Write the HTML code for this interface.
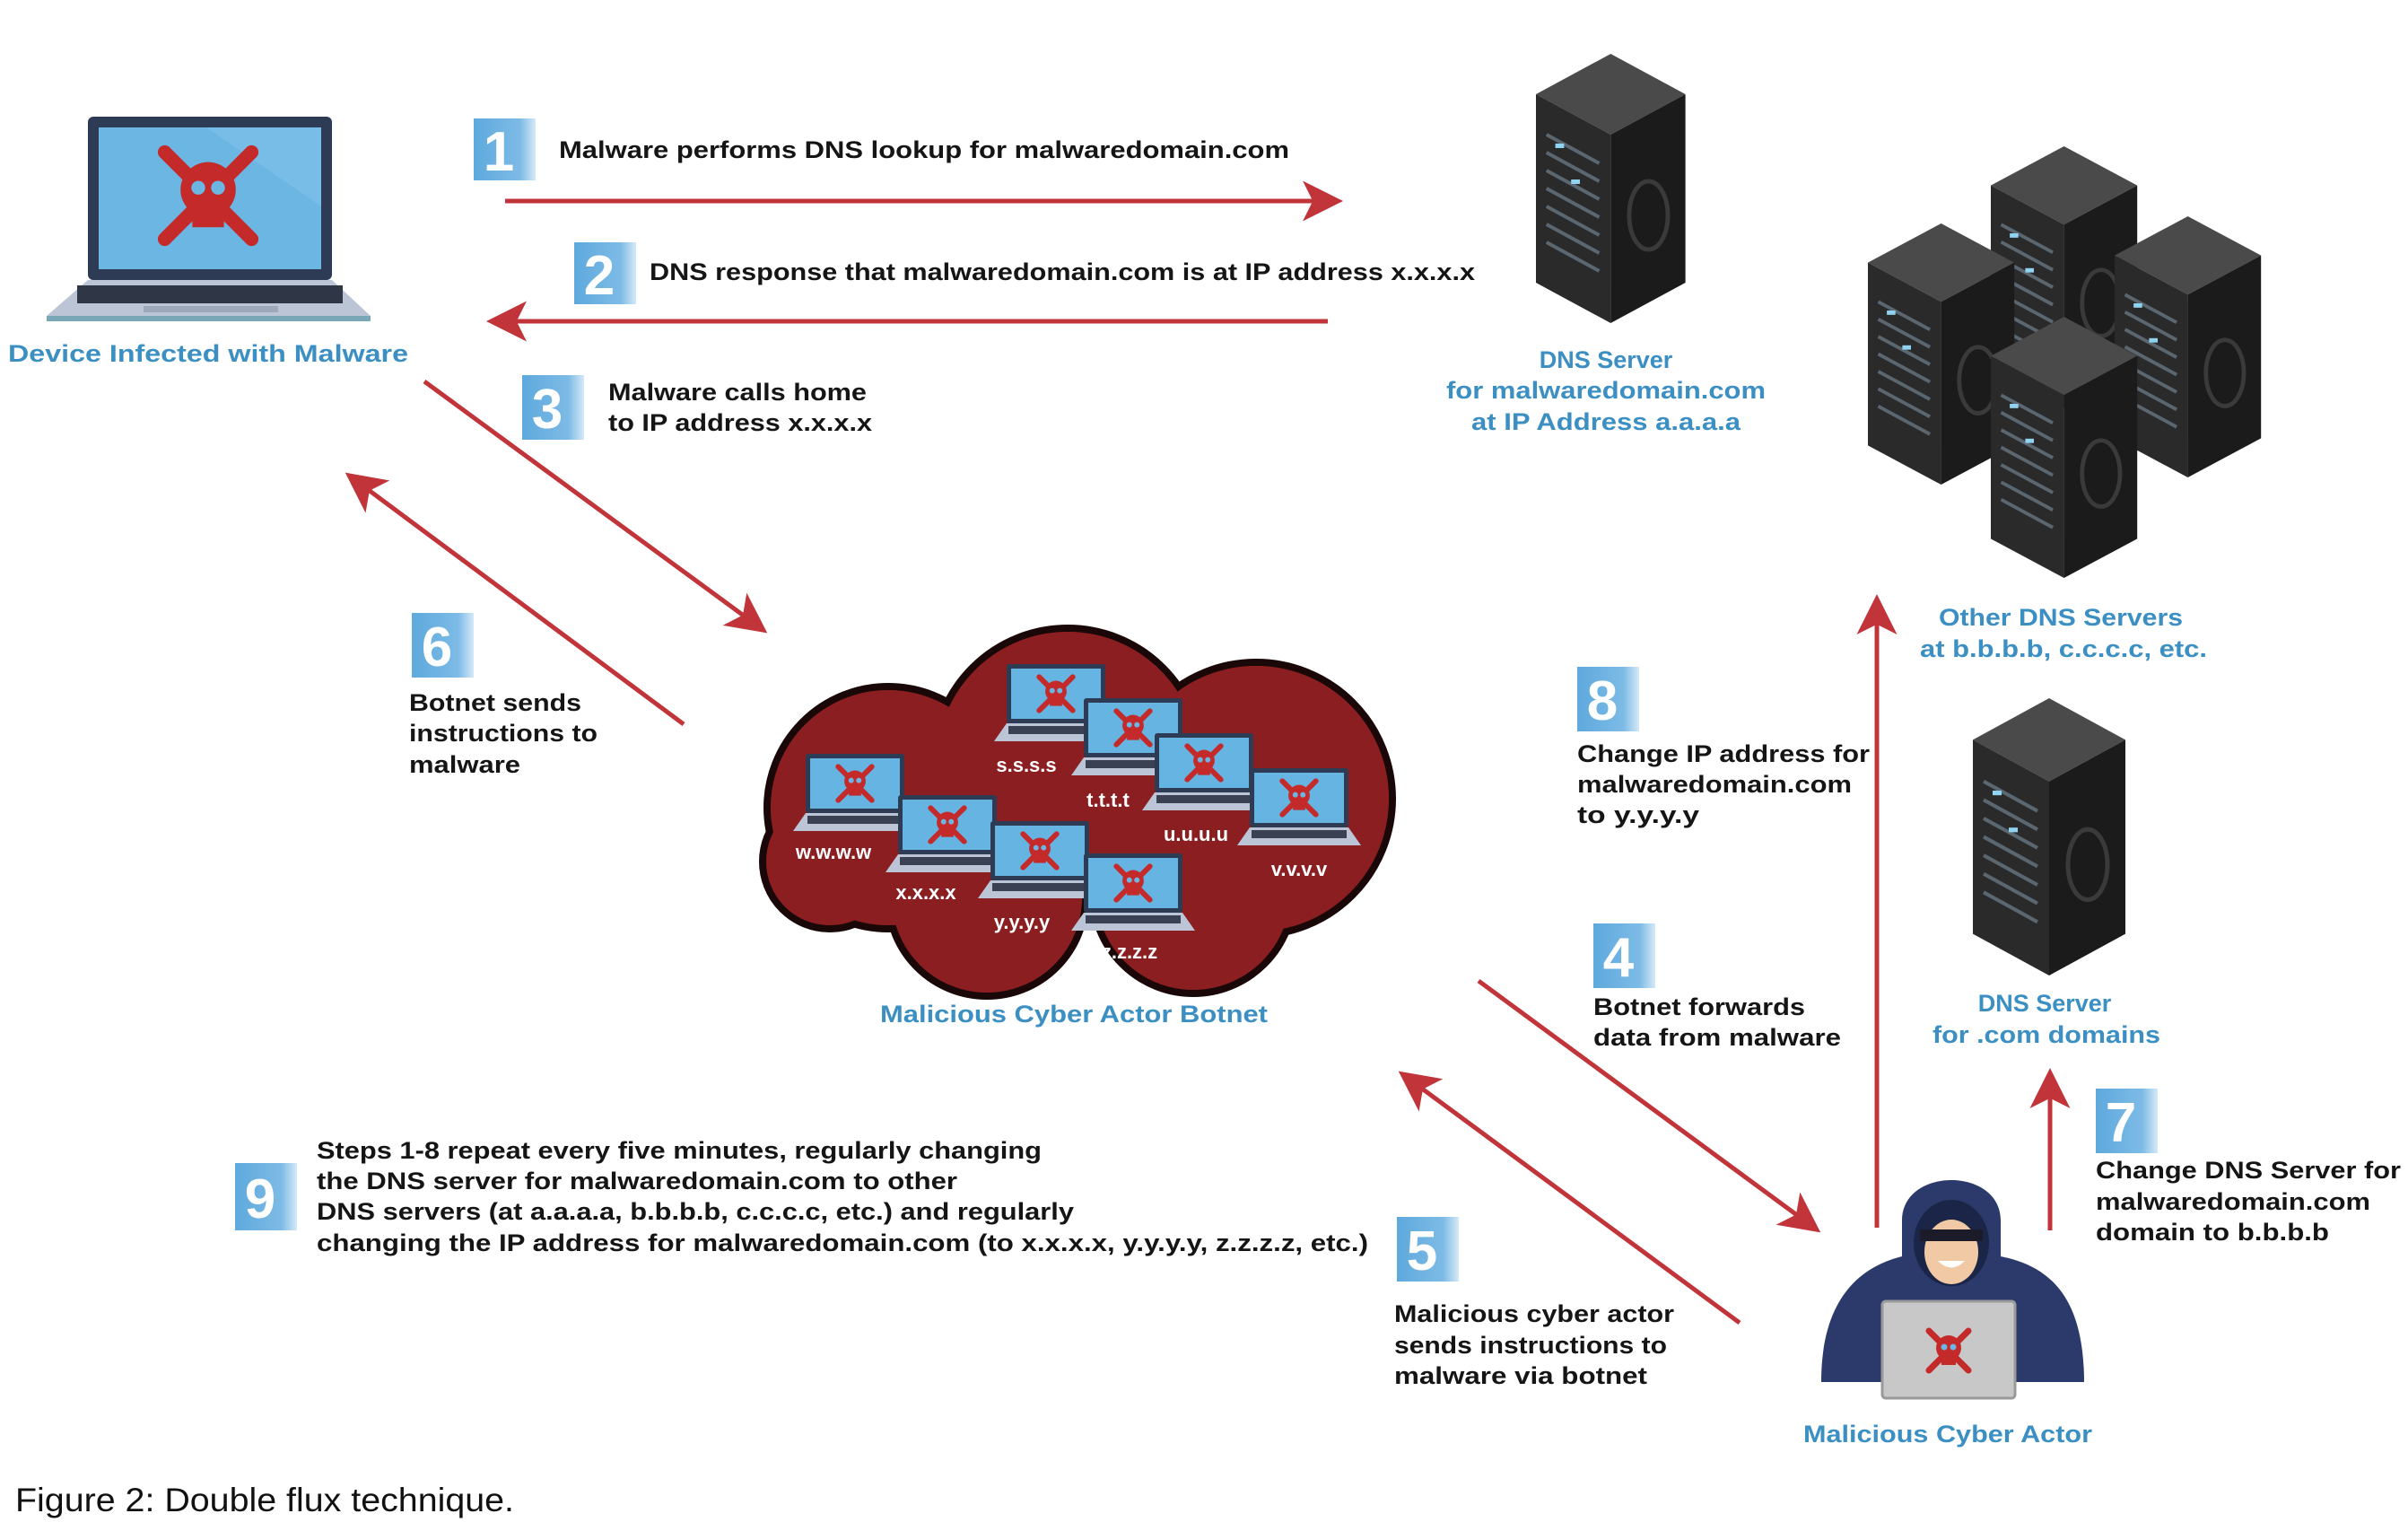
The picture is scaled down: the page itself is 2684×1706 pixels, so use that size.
<!DOCTYPE html>
<html><head><meta charset="utf-8"><style>
html,body{margin:0;padding:0;background:#fff;}
svg{display:block;}
.t{font-family:"Liberation Sans",sans-serif;font-weight:bold;font-size:27px;fill:#151515;}
.b{font-family:"Liberation Sans",sans-serif;font-weight:bold;font-size:27px;fill:#3b8fc2;}
.n{font-family:"Liberation Sans",sans-serif;font-weight:bold;font-size:62px;fill:#fff;}
.l{font-family:"Liberation Sans",sans-serif;font-weight:bold;font-size:22px;fill:#fff;}
</style></head><body>
<svg width="2684" height="1706" viewBox="0 0 2684 1706" xmlns="http://www.w3.org/2000/svg">
<defs>
<marker id="ah" viewBox="0 0 20 20" refX="16" refY="10" markerWidth="9" markerHeight="9" orient="auto" markerUnits="strokeWidth">
<path d="M0,0 L20,10 L0,20 L5,10 Z" fill="#c0343a"/>
</marker>
<linearGradient id="bg" x1="0" x2="1"><stop offset="0" stop-color="#5ea9dd"/><stop offset="0.75" stop-color="#7dbbe6"/><stop offset="1" stop-color="#d5e9f7"/></linearGradient>
<g id="skull">
<line x1="-22" y1="-22" x2="22" y2="22" stroke="#c42a2a" stroke-width="7" stroke-linecap="round"/>
<line x1="22" y1="-22" x2="-22" y2="22" stroke="#c42a2a" stroke-width="7" stroke-linecap="round"/>
<circle cx="0" cy="-3" r="14" fill="#c42a2a"/>
<rect x="-8" y="6" width="16" height="10" fill="#c42a2a"/>
<circle cx="-5" cy="-4" r="3.5" fill="#6cb6e4"/><circle cx="5" cy="-4" r="3.5" fill="#6cb6e4"/>
</g>
<g id="ml">
<rect x="0" y="0" width="110" height="66" rx="3" fill="#2d3b55"/>
<rect x="5" y="5" width="100" height="56" fill="#66b4e2"/>
<use href="#skull" transform="translate(55,33) scale(0.85)"/>
<polygon points="0,66 110,66 124,86 -14,86" fill="#bcc5d6"/>
<rect x="2" y="69" width="106" height="9" fill="#3a4152"/>
</g>
<g id="srv">
<polygon points="0,45 85,0 170,45 85,90" fill="#4a4a4a"/>
<polygon points="0,45 85,90 85,300 0,255" fill="#2a2a2a"/>
<polygon points="85,90 170,45 170,255 85,300" fill="#1b1b1b"/>
<g stroke="#5a6670" stroke-width="4">
<line x1="12" y1="90" x2="72" y2="122"/><line x1="12" y1="110" x2="72" y2="142"/>
<line x1="12" y1="130" x2="72" y2="162"/><line x1="12" y1="150" x2="72" y2="182"/>
<line x1="12" y1="170" x2="72" y2="202"/><line x1="12" y1="190" x2="72" y2="222"/>
<line x1="12" y1="210" x2="72" y2="242"/>
</g>
<rect x="22" y="100" width="10" height="5" fill="#8fd3f0"/><rect x="40" y="140" width="10" height="5" fill="#8fd3f0"/>
<ellipse cx="128" cy="180" rx="22" ry="38" fill="none" stroke="#3a3a3a" stroke-width="5"/>
</g>
</defs>

<!-- Main laptop -->
<rect x="98" y="130" width="272" height="182" rx="6" fill="#2d3b55"/>
<rect x="110" y="142" width="248" height="158" fill="#6cb6e4"/>
<polygon points="230,142 358,142 358,230" fill="#7fc2ea" opacity="0.6"/>
<use href="#skull" transform="translate(232,218) scale(2.2)"/>
<polygon points="98,312 370,312 413,352 52,352" fill="#bcc5d6"/>
<rect x="86" y="318" width="296" height="20" fill="#2f3646"/>
<rect x="160" y="341" width="150" height="7" fill="#9ea8bb"/>
<rect x="52" y="352" width="361" height="6" fill="#7aa7b6"/>
<text class="b" x="232" y="403" text-anchor="middle" textLength="446" lengthAdjust="spacingAndGlyphs">Device Infected with Malware</text>

<!-- Badges -->
<g>
<rect x="528" y="132" width="69" height="69" fill="url(#bg)"/><text class="n" x="556" y="190" text-anchor="middle">1</text>
<rect x="640" y="270" width="69" height="69" fill="url(#bg)"/><text class="n" x="668" y="328" text-anchor="middle">2</text>
<rect x="582" y="418" width="69" height="72" fill="url(#bg)"/><text class="n" x="610" y="477" text-anchor="middle">3</text>
<rect x="459" y="683" width="69" height="72" fill="url(#bg)"/><text class="n" x="487" y="742" text-anchor="middle">6</text>
<rect x="1758" y="743" width="69" height="72" fill="url(#bg)"/><text class="n" x="1786" y="802" text-anchor="middle">8</text>
<rect x="1776" y="1029" width="69" height="72" fill="url(#bg)"/><text class="n" x="1804" y="1088" text-anchor="middle">4</text>
<rect x="1557" y="1356" width="69" height="72" fill="url(#bg)"/><text class="n" x="1585" y="1415" text-anchor="middle">5</text>
<rect x="2336" y="1213" width="69" height="72" fill="url(#bg)"/><text class="n" x="2364" y="1272" text-anchor="middle">7</text>
<rect x="262" y="1296" width="69" height="75" fill="url(#bg)"/><text class="n" x="290" y="1357" text-anchor="middle">9</text>
</g>

<!-- Step texts -->
<text class="t" x="623" y="176" textLength="814" lengthAdjust="spacingAndGlyphs">Malware performs DNS lookup for malwaredomain.com</text>
<text class="t" x="724" y="312" textLength="920" lengthAdjust="spacingAndGlyphs">DNS response that malwaredomain.com is at IP address x.x.x.x</text>
<text class="t" x="678" y="446" textLength="288" lengthAdjust="spacingAndGlyphs">Malware calls home</text>
<text class="t" x="678" y="480" textLength="294" lengthAdjust="spacingAndGlyphs">to IP address x.x.x.x</text>
<text class="t" x="456" y="792" textLength="192" lengthAdjust="spacingAndGlyphs">Botnet sends</text>
<text class="t" x="456" y="826" textLength="210" lengthAdjust="spacingAndGlyphs">instructions to</text>
<text class="t" x="456" y="861" textLength="124" lengthAdjust="spacingAndGlyphs">malware</text>
<text class="t" x="1758" y="849" textLength="326" lengthAdjust="spacingAndGlyphs">Change IP address for</text>
<text class="t" x="1758" y="883" textLength="306" lengthAdjust="spacingAndGlyphs">malwaredomain.com</text>
<text class="t" x="1758" y="917" textLength="136" lengthAdjust="spacingAndGlyphs">to y.y.y.y</text>
<text class="t" x="1776" y="1131" textLength="236" lengthAdjust="spacingAndGlyphs">Botnet forwards</text>
<text class="t" x="1776" y="1165" textLength="276" lengthAdjust="spacingAndGlyphs">data from malware</text>
<text class="t" x="1554" y="1473" textLength="312" lengthAdjust="spacingAndGlyphs">Malicious cyber actor</text>
<text class="t" x="1554" y="1508" textLength="304" lengthAdjust="spacingAndGlyphs">sends instructions to</text>
<text class="t" x="1554" y="1542" textLength="282" lengthAdjust="spacingAndGlyphs">malware via botnet</text>
<text class="t" x="2336" y="1313" textLength="340" lengthAdjust="spacingAndGlyphs">Change DNS Server for</text>
<text class="t" x="2336" y="1348" textLength="306" lengthAdjust="spacingAndGlyphs">malwaredomain.com</text>
<text class="t" x="2336" y="1382" textLength="260" lengthAdjust="spacingAndGlyphs">domain to b.b.b.b</text>
<text class="t" x="353" y="1291" textLength="808" lengthAdjust="spacingAndGlyphs">Steps 1-8 repeat every five minutes, regularly changing</text>
<text class="t" x="353" y="1325" textLength="714" lengthAdjust="spacingAndGlyphs">the DNS server for malwaredomain.com to other</text>
<text class="t" x="353" y="1359" textLength="844" lengthAdjust="spacingAndGlyphs">DNS servers (at a.a.a.a, b.b.b.b, c.c.c.c, etc.) and regularly</text>
<text class="t" x="353" y="1394" textLength="1172" lengthAdjust="spacingAndGlyphs">changing the IP address for malwaredomain.com (to x.x.x.x, y.y.y.y, z.z.z.z, etc.)</text>

<!-- Arrows -->
<g stroke="#c0343a" stroke-width="5" fill="none">
<line x1="563" y1="224" x2="1488" y2="224" marker-end="url(#ah)"/>
<line x1="1480" y1="358" x2="551" y2="358" marker-end="url(#ah)"/>
<line x1="473" y1="425" x2="848" y2="700" marker-end="url(#ah)"/>
<line x1="762" y1="807" x2="392" y2="532" marker-end="url(#ah)"/>
<line x1="1648" y1="1093" x2="2022" y2="1368" marker-end="url(#ah)"/>
<line x1="1939" y1="1474" x2="1566" y2="1199" marker-end="url(#ah)"/>
<line x1="2092" y1="1368" x2="2092" y2="671" marker-end="url(#ah)"/>
<line x1="2285" y1="1371" x2="2285" y2="1199" marker-end="url(#ah)"/>
</g>

<!-- DNS server top -->
<use href="#srv" transform="translate(1712,60) scale(0.98,1.0)"/>
<text class="b" x="1790" y="410" text-anchor="middle">DNS Server</text>
<text class="b" x="1790" y="444" text-anchor="middle" textLength="356" lengthAdjust="spacingAndGlyphs">for malwaredomain.com</text>
<text class="b" x="1790" y="479" text-anchor="middle" textLength="300" lengthAdjust="spacingAndGlyphs">at IP Address a.a.a.a</text>

<!-- Server cluster -->
<use href="#srv" transform="translate(2219,163) scale(0.96,0.97)"/>
<use href="#srv" transform="translate(2082,249) scale(0.96,0.97)"/>
<use href="#srv" transform="translate(2357,241) scale(0.96,0.97)"/>
<use href="#srv" transform="translate(2219,353) scale(0.96,0.97)"/>
<text class="b" x="2297" y="697" text-anchor="middle" textLength="272" lengthAdjust="spacingAndGlyphs">Other DNS Servers</text>
<text class="b" x="2300" y="732" text-anchor="middle" textLength="320" lengthAdjust="spacingAndGlyphs">at b.b.b.b, c.c.c.c, etc.</text>

<!-- DNS .com -->
<use href="#srv" transform="translate(2199,778) scale(1.0,1.03)"/>
<text class="b" x="2279" y="1127" text-anchor="middle">DNS Server</text>
<text class="b" x="2281" y="1162" text-anchor="middle" textLength="254" lengthAdjust="spacingAndGlyphs">for .com domains</text>

<!-- Cloud -->
<g stroke="#1a0808" stroke-width="8" fill="#8b1e20">
<circle cx="1190" cy="850" r="150"/><circle cx="990" cy="900" r="135"/><circle cx="1400" cy="890" r="152"/>
<circle cx="1100" cy="1000" r="110"/><circle cx="1330" cy="995" r="112"/><circle cx="925" cy="960" r="75"/>
</g>
<g fill="#8b1e20">
<circle cx="1190" cy="850" r="146"/><circle cx="990" cy="900" r="131"/><circle cx="1400" cy="890" r="148"/>
<circle cx="1100" cy="1000" r="106"/><circle cx="1330" cy="995" r="108"/><circle cx="925" cy="960" r="71"/>
</g>
<use href="#ml" x="1122" y="740"/>
<use href="#ml" x="1208" y="778"/>
<use href="#ml" x="1287" y="817"/>
<use href="#ml" x="1393" y="856"/>
<use href="#ml" x="898" y="840"/>
<use href="#ml" x="1001" y="886"/>
<use href="#ml" x="1104" y="915"/>
<use href="#ml" x="1208" y="951"/>
<text class="l" x="1144" y="860" text-anchor="middle">s.s.s.s</text>
<text class="l" x="1235" y="899" text-anchor="middle">t.t.t.t</text>
<text class="l" x="1333" y="937" text-anchor="middle">u.u.u.u</text>
<text class="l" x="1448" y="976" text-anchor="middle">v.v.v.v</text>
<text class="l" x="929" y="957" text-anchor="middle">w.w.w.w</text>
<text class="l" x="1032" y="1002" text-anchor="middle">x.x.x.x</text>
<text class="l" x="1139" y="1035" text-anchor="middle">y.y.y.y</text>
<text class="l" x="1259" y="1068" text-anchor="middle">z.z.z.z</text>
<text class="b" x="1197" y="1139" text-anchor="middle" textLength="432" lengthAdjust="spacingAndGlyphs">Malicious Cyber Actor Botnet</text>

<!-- Hacker -->
<path d="M2030,1540 C2030,1440 2080,1410 2120,1400 L2120,1360 C2120,1300 2230,1300 2230,1360 L2230,1400 C2280,1410 2323,1440 2323,1540 Z" fill="#2b3a6b"/>
<ellipse cx="2175" cy="1385" rx="42" ry="48" fill="#1b2547"/>
<ellipse cx="2175" cy="1395" rx="30" ry="36" fill="#f1c9a5"/>
<rect x="2140" y="1370" width="70" height="13" fill="#1b1b2a"/>
<path d="M2160,1405 Q2175,1420 2190,1405 Z" fill="#fff"/>
<rect x="2098" y="1450" width="148" height="108" rx="4" fill="#c8c8c8" stroke="#9a9a9a" stroke-width="3"/>
<use href="#skull" transform="translate(2172,1505) scale(1.0)"/>
<text class="b" x="2171" y="1607" text-anchor="middle" textLength="322" lengthAdjust="spacingAndGlyphs">Malicious Cyber Actor</text>

<!-- Caption -->
<text x="17" y="1684" font-family="Liberation Sans, sans-serif" font-size="37" fill="#111" textLength="556" lengthAdjust="spacingAndGlyphs">Figure 2: Double flux technique.</text>
</svg>
</body></html>
